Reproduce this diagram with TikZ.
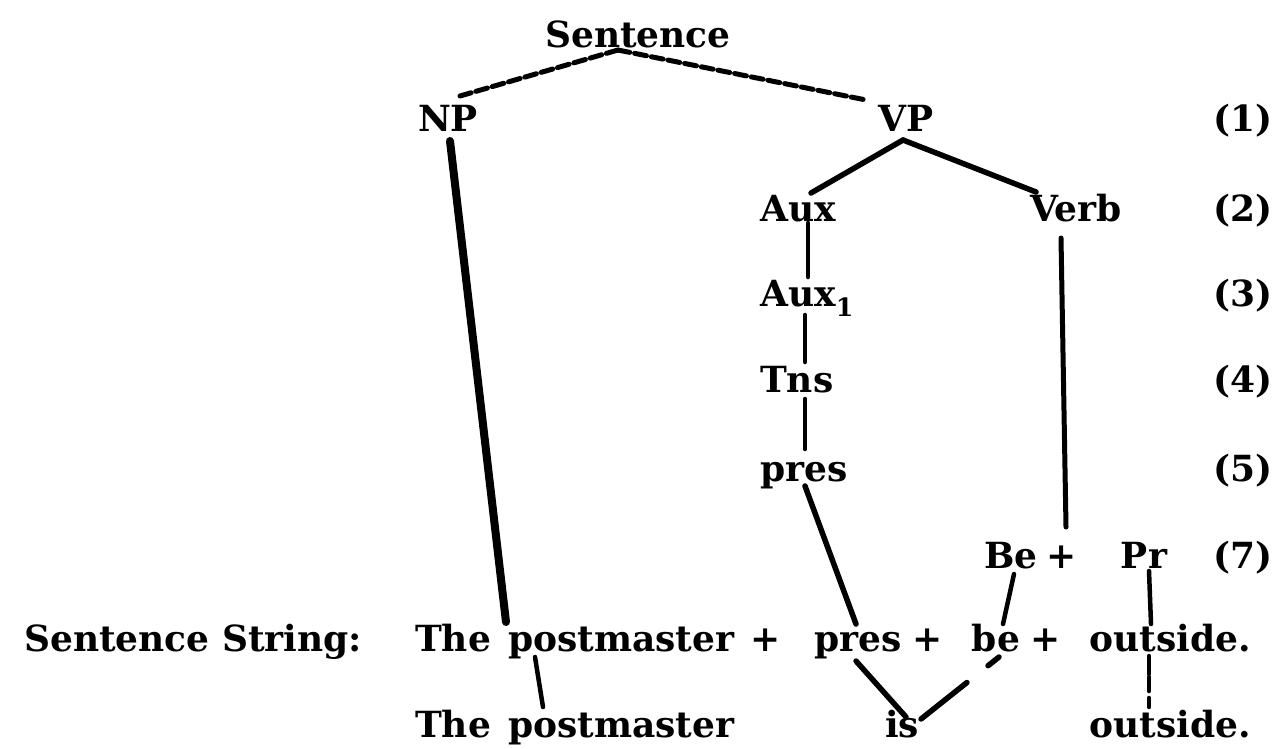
\documentclass[tikz,border=0pt]{standalone}
\usepackage{fontspec}
\setmainfont{DejaVu Serif}
\usetikzlibrary{calc}

\tikzset{
  word/.style={font=\bfseries\fontsize{36pt}{40pt}\selectfont, inner sep=0pt, anchor=base},
  wordw/.style={word, anchor=base west},
  branch/.style={line width=5.5pt, line cap=round},
  dashbranch/.style={line width=5pt, dash pattern=on 12pt off 5pt, line cap=round},
}

\begin{document}
\begin{tikzpicture}[x=1pt,y=-1pt]
\useasboundingbox (0,0) rectangle (1284,748);
% nodes
\node[word] (sent) at (638,47) {Sentence};
\node[word] (np) at (448,131) {NP};
\node[word] (vp) at (906,131) {VP};
\node[wordw] (aux) at (760,221) {Aux};
\node[word] (verb) at (1076,221) {Verb};
\node[wordw] (aux1) at (760,306) {Aux\textsubscript{1}};
\node[wordw] (tns) at (760,392) {Tns};
\node[wordw] (pres) at (760,481) {pres};
\node[word] (be7) at (1011,568) {Be};
\node[word] (plus7) at (1062,568) {+};
\node[word] (pr7) at (1144,568) {Pr};
% rule numbers
\foreach \n/\y in {1/131,2/221,3/306,4/392,5/481,7/568}
  \node[word, anchor=base east] (rule\n) at (1273,\y) {(\n)};
% sentence string
\node[wordw] (label) at (24,651) {Sentence String:};
\node[wordw] (the1) at (415,651) {The};
\node[wordw] (pm1) at (508,651) {postmaster};
\node[word] (plusa) at (766,651) {+};
\node[word] (pres1) at (858,651) {pres};
\node[word] (plusb) at (928,651) {+};
\node[word] (be1) at (996,651) {be};
\node[word] (plusc) at (1046,651) {+};
\node[word] (out1) at (1170,651) {outside.};
% surface string
\node[wordw] (the2) at (415,737) {The};
\node[wordw] (pm2) at (508,737) {postmaster};
\node[word] (is2) at (902,737) {is};
\node[word] (out2) at (1170,737) {outside.};

% edges
\draw[dashbranch] ($(sent.base)+(-20,3)$) -- ($(np.base)+(12,-35)$);
\draw[dashbranch] ($(sent.base)+(-20,3)$) -- ($(vp.base)+(-40,-31)$);
\draw[branch, line width=8pt] ($(np.base)+(2,10)$) -- ($(pm1.base west)+(-2,-29)$);
\draw[branch] ($(vp.base)+(-3,9)$) -- ($(aux.base west)+(51,-28)$);
\draw[branch] ($(vp.base)+(-3,9)$) -- ($(verb.base)+(-40,-29)$);
\draw[branch, line width=4.5pt] ($(aux.base west)+(48,2)$) -- ($(aux1.base west)+(48,-29)$);
\draw[branch, line width=4.5pt] ($(aux1.base west)+(45,9)$) -- ($(tns.base west)+(45,-30)$);
\draw[branch, line width=4.5pt] ($(tns.base west)+(45,7)$) -- ($(pres.base west)+(45,-32)$);
\draw[branch] ($(pres.base west)+(45,5)$) -- ($(pres1.base)+(-2,-27)$);
\draw[branch, line width=5pt] ($(verb.base)+(-15,17)$) -- ($(plus7.base)+(4,-41)$);
\draw[branch, line width=4.5pt] ($(be7.base)+(3,6)$) -- ($(be1.base)+(7,-27)$);
\draw[branch, line width=4.5pt] ($(pr7.base)+(5,3)$) -- ($(out1.base)+(-19,-27)$);
\draw[branch, line width=4.5pt] ($(pm1.base west)+(27,6)$) -- ($(pm2.base west)+(35,-30)$);
\draw[branch] ($(pres1.base)+(-2,10)$) -- ($(is2.base)+(4,-20)$);
\draw[branch, dash pattern=on 14pt off 27pt on 60pt] ($(be1.base)+(3,6)$) -- ($(is2.base)+(19,-18)$);
\draw[branch, line width=4.5pt, dash pattern=on 18pt off 3pt on 14pt off 7pt on 9pt] ($(out1.base)+(-21,5)$) -- ($(out2.base)+(-21,-30)$);

\end{tikzpicture}
\end{document}
